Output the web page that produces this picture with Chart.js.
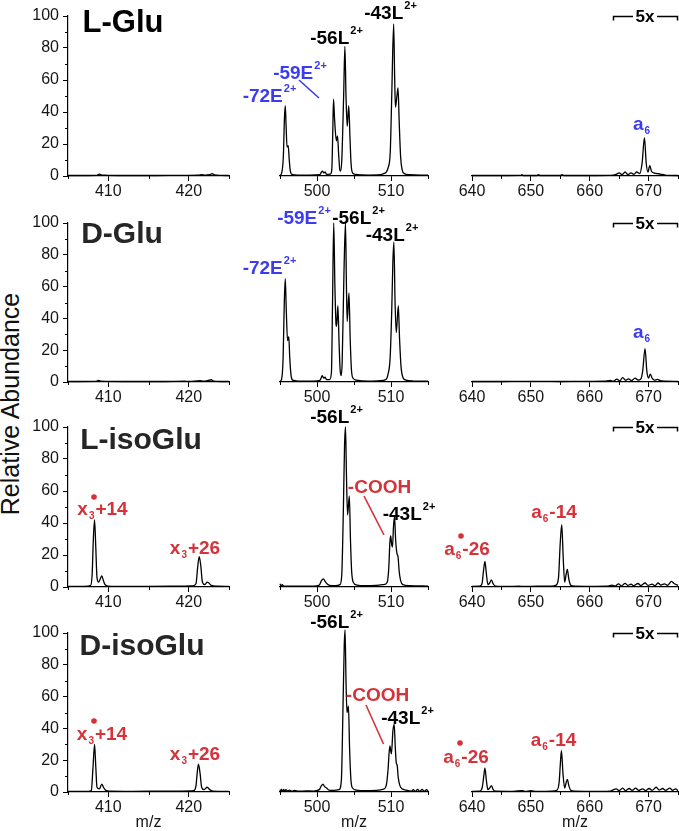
<!DOCTYPE html>
<html lang="en">
<head>
<meta charset="UTF-8" />
<title>Glu / isoGlu fragment spectra</title>
<script src="https://cdn.jsdelivr.net/npm/chart.js"></script>
<style>
  body { margin:0; background:#fff; width:679px; height:831px; position:relative; overflow:hidden;
         font-family:"Liberation Sans", Arial, sans-serif; }
  canvas { position:absolute; }
  svg { position:absolute; left:0; top:0; }
  .lbl { position:absolute; font-weight:bold; font-size:19px; line-height:1; white-space:nowrap;
         transform:translate(-50%,-50%); color:#000; }
  .ttl { font-size:30px; color:#262626; }
  .blue { color:#3b3bf2; }
  .red { color:#d6323a; }
  .sp { font-size:11px; position:relative; top:-10px; margin-left:1px; }
  .sb { font-size:10px; position:relative; top:4px; margin:0 1px; }
  .five { font-size:17px; }
  #yTitle { position:absolute; left:10px; top:404px; font-size:25px; white-space:nowrap; color:#111;
            transform:translate(-50%,-50%) rotate(-90deg); }
</style>
</head>
<body>
<div id="yTitle">Relative Abundance</div>
<svg id="marks" width="679" height="831"></svg>

<script>
  // ---- data: [m/z, relative abundance] ----
  const lGlu410 = [[405,0.3],[407,0.3],[408.6,0.4],[408.9,1.2],[409.2,0.6],[409.6,0.5],[412,0.3],[416,0.3],[419,0.4],
    [421.2,0.5],[421.6,0.9],[422,0.6],[422.6,0.8],[422.9,1.5],[423.2,0.7],[424,0.4],[425,0.3]];
  const lGlu500 = [[495,0.5],[495.2,1.5],[495.45,12],[495.6,36],[495.71,44],[495.82,32],[495.95,18],[496.11,19],
    [496.25,10],[496.4,3],[496.6,1],[497.5,0.6],[499,0.5],[500.4,0.8],[500.6,2.5],[500.75,3],[500.9,2],[501.1,2.5],
    [501.3,1],[501.8,1.2],[502,4],[502.12,25],[502.23,48],[502.38,35],[502.62,22],[502.77,25],[502.92,14],[503.08,4],
    [503.18,3],[503.35,10],[503.6,50],[503.77,81],[503.92,50],[504.08,31],[504.29,44],[504.45,25],[504.6,8],
    [504.8,2],[505.2,1],[507,0.6],[508.5,0.8],[509,1.5],[509.29,2],[509.6,5],[509.9,15],[510.1,50],[510.36,95],
    [510.5,60],[510.6,43],[510.8,50],[510.95,55],[511.1,35],[511.3,12],[511.5,4],[511.8,1.5],[512.5,0.8],[514,0.5],[515,0.5]];
  const lGlu640 = [[640,0.3],[645,0.3],[648.3,0.4],[648.5,0.8],[648.7,0.3],[651,0.3],[651.3,0.8],[651.6,0.3],[655,0.3],
    [655.3,0.9],[655.6,0.3],[660,0.3],[663.5,0.4],[664.5,1],[665,2],[665.5,0.8],[666,2.5],[666.5,0.9],[667,2],[667.5,1],
    [668,2.5],[668.5,1.5],[668.9,8],[669.3,24],[669.6,8],[669.9,2.5],[670.2,6.5],[670.5,3],[671,1.8],[671.5,1.5],
    [672,1.2],[672.5,0.8],[673,0.4],[675,0.3]];

  const dGlu410 = [[405,0.3],[408.5,0.4],[408.8,1],[409.1,0.5],[412,0.3],[417,0.3],[419.5,0.5],[420,0.3],[421.4,0.8],
    [421.8,0.5],[422.2,0.7],[422.8,1.4],[423.1,0.6],[424,0.3],[425,0.3]];
  const dGlu500 = [[495,0.5],[495.2,1.5],[495.42,15],[495.58,50],[495.71,65],[495.85,45],[496.02,26],[496.19,28.5],
    [496.32,15],[496.5,4],[496.7,1.2],[497.5,0.6],[499.5,0.5],[500.4,1],[500.6,3],[500.71,4],[500.9,2.5],[501.1,3],
    [501.3,1.5],[501.7,1.5],[501.95,6],[502.1,50],[502.26,100],[502.42,60],[502.58,36],[502.65,35],[502.82,48],
    [502.98,25],[503.12,8],[503.25,4],[503.4,12],[503.65,70],[503.85,100],[503.98,60],[504.08,38],[504.32,56],
    [504.48,28],[504.65,8],[504.85,2.5],[505.3,1.2],[507,0.6],[508.5,0.8],[509.3,1.5],[509.6,5],[509.88,15],
    [510.1,45],[510.25,75],[510.39,88],[510.55,50],[510.71,31],[510.99,48],[511.15,28],[511.35,10],[511.6,3],
    [512,1.2],[513,0.6],[515,0.5]];
  const dGlu640 = [[640,0.3],[645,0.3],[648.5,0.4],[652,0.4],[655,0.3],[659,0.4],[662.5,0.5],[663.5,1],[664,0.5],
    [664.6,1.8],[665.1,0.7],[665.6,2.8],[666.1,1],[666.6,2],[667.1,0.8],[667.7,2.5],[668.2,1.2],[668.7,2],[669,7],
    [669.4,21],[669.7,7],[670,2.5],[670.3,5],[670.6,2.5],[671,1.2],[671.5,1.6],[672,0.8],[673,0.5],[675,0.3]];

  const lIso410 = [[405,0.4],[407,0.4],[407.8,0.8],[408,8],[408.15,30],[408.3,42],[408.45,25],[408.6,6],[408.8,3],
    [409,5],[409.2,7],[409.4,4],[409.6,1.5],[410,0.6],[412,0.4],[415,0.4],[418,0.5],[419.5,0.6],[420.5,0.7],
    [420.9,2],[421.1,12],[421.3,19],[421.5,13],[421.7,3],[422,1.5],[422.3,3],[422.5,2.5],[422.8,1],[423.5,0.5],[425,0.4]];
  const lIso500 = [[495,2],[495.15,0.5],[495.3,1.5],[495.5,0.6],[497,0.5],[499.5,0.6],[500.3,1.2],[500.6,4],
    [500.87,5],[501.1,3.5],[501.35,2],[501.7,1],[502.5,0.8],[503.1,1.5],[503.35,8],[503.55,45],[503.72,88],
    [503.85,100],[503.98,70],[504.13,45],[504.37,57],[504.52,30],[504.68,10],[504.9,3],[505.4,1.2],[506.5,0.8],
    [508,1],[509,1.5],[509.49,3],[509.7,12],[509.85,28],[509.96,32],[510.08,27],[510.2,25],[510.34,38],[510.48,44],
    [510.62,30],[510.8,21],[510.95,19],[511.1,10],[511.3,4],[511.6,1.5],[512.5,0.8],[515,0.6]];
  const lIso640 = [[640,0.4],[641.3,0.5],[641.7,2],[641.95,10],[642.2,16],[642.45,8],[642.7,1.5],[643,2.5],
    [643.3,4.5],[643.6,2],[644,0.6],[646,0.4],[648,0.5],[649,0.4],[651,0.5],[653.5,0.5],[654.3,1.2],[654.7,6],
    [655,28],[655.25,39],[655.5,18],[655.75,3],[656,8],[656.2,11],[656.45,5],[656.8,1],[657.5,0.5],[660,0.4],
    [663,0.5],[663.8,1.2],[664.3,0.6],[664.9,2],[665.4,0.7],[666,2.3],[666.5,1],[667,1.8],[667.5,0.8],[668.2,2.2],
    [668.7,0.9],[669.4,2.5],[669.9,1],[670.6,1.8],[671.1,0.8],[671.6,2.5],[672.1,1.2],[672.7,2],[673.2,1],
    [673.9,3.5],[674.4,2],[675,1]];

  const dIso410 = [[405,0.4],[407.5,0.4],[407.9,1],[408.1,15],[408.3,30],[408.45,16],[408.6,3],[408.9,2],[409.2,5],
    [409.4,3],[409.7,1],[410.2,0.5],[413,0.4],[416,0.5],[419,0.6],[420.6,0.8],[420.9,4],[421.05,12],[421.2,17.5],
    [421.4,12],[421.6,3],[421.9,1.5],[422.3,3],[422.6,1.5],[423,0.6],[425,0.4]];
  const dIso500 = [[495,1.5],[495.1,0.3],[495.2,1.8],[495.35,0.4],[495.5,1.6],[495.65,0.5],[495.8,1.4],[496,0.6],
    [496.3,1.2],[496.6,0.5],[497,1],[497.5,0.5],[498.5,0.7],[499.5,0.6],[500.3,1.5],[500.6,4],[500.8,5],[501,3.5],
    [501.3,2.5],[501.6,1.2],[502.3,1],[503,1.5],[503.3,8],[503.5,50],[503.68,92],[503.79,102],[503.92,70],
    [504.05,50],[504.25,54],[504.4,28],[504.58,8],[504.8,2.5],[505.3,1.2],[506.5,0.8],[508,1],[509,1.8],[509.35,4],
    [509.6,14],[509.75,25],[509.86,29],[509.96,26],[510.06,24],[510.25,38],[510.43,42.5],[510.58,28],[510.72,18],
    [510.83,17],[510.98,9],[511.2,4],[511.5,2],[512,1.2],[512.8,0.5],[513,1.5],[513.3,0.4],[513.6,1.6],[513.9,0.3],
    [514.2,1.7],[514.5,0.4],[514.8,1.5],[515,0.6]];
  const dIso640 = [[640,0.4],[641.3,0.5],[641.75,3],[642,10],[642.2,15],[642.45,7],[642.7,1.5],[643,2.5],[643.3,4],
    [643.6,1.5],[644,0.5],[647,0.4],[648.5,0.9],[649,0.4],[650,0.8],[651,0.4],[653.5,0.5],[654.4,1],[654.8,6],
    [655.05,20],[655.2,26],[655.45,12],[655.75,2.5],[656,6],[656.2,8],[656.45,4],[656.8,1],[657.5,0.5],[660,0.4],
    [663.5,0.6],[664.5,2],[665,0.8],[665.6,2.5],[666.1,0.9],[666.7,2.2],[667.2,1],[667.8,2.5],[668.3,1],[669,2],
    [669.5,0.9],[670.1,2.2],[670.6,1],[671.3,3],[671.8,1.2],[672.4,2.2],[672.9,1],[673.6,2.5],[674.1,1],[674.6,2],[675,0.8]];

  // ---- axes: ranges and tick labels ----
  const xRanges = [[405, 425], [495, 515], [640, 675]];
  const xMajor = [[410, 420], [500, 510], [640, 650, 660, 670]];
  const xMinor = [[405, 415, 425], [495, 505, 515], [645, 655, 665, 675]];
  const yMajor = [0, 20, 40, 60, 80, 100];
  const yMinor = [10, 30, 50, 70, 90];
  const sampleNames = ["L-Glu", "D-Glu", "L-isoGlu", "D-isoGlu"];
  const spectra = [
    [lGlu410, lGlu500, lGlu640],
    [dGlu410, dGlu500, dGlu640],
    [lIso410, lIso500, lIso640],
    [dIso410, dIso500, dIso640]
  ];

  // panel placement (pixels)
  const COLS = [{ left: 68, width: 161 }, { left: 260, width: 168 }, { left: 452, width: 226 }];
  const ROWS = [{ top: 16, bottom: 176 }, { top: 223, bottom: 382 }, { top: 427, bottom: 587 }, { top: 633, bottom: 792 }];
  const FONT = "'Liberation Sans', Arial, sans-serif";

  const minorTicks = {
    id: "minorTicks",
    afterDraw(chart, args, opts) {
      const ctx = chart.ctx, a = chart.chartArea;
      ctx.save();
      ctx.strokeStyle = "#000";
      ctx.lineWidth = 1;
      (opts.x || []).forEach(v => {
        const px = Math.round(chart.scales.x.getPixelForValue(v)) + 0.5;
        ctx.beginPath(); ctx.moveTo(px, a.bottom); ctx.lineTo(px, a.bottom + 3); ctx.stroke();
      });
      (opts.y || []).forEach(v => {
        const py = Math.round(chart.scales.y.getPixelForValue(v)) + 0.5;
        ctx.beginPath(); ctx.moveTo(a.left, py); ctx.lineTo(a.left - 3, py); ctx.stroke();
      });
      ctx.restore();
    }
  };

  function panel(r, c) {
    const col = COLS[c], row = ROWS[r];
    const padL = c === 0 ? 46 : 20, padT = 26, padR = 8, padB = r === 3 ? 39 : 26;
    const cv = document.createElement("canvas");
    cv.width = col.width + padL + padR;
    cv.height = row.bottom - row.top + padT + padB;
    cv.style.left = (col.left - padL) + "px";
    cv.style.top = (row.top - padT) + "px";
    document.body.appendChild(cv);

    const tickFont = { family: FONT, size: 16 };
    new Chart(cv, {
      type: "line",
      data: {
        datasets: [{
          data: spectra[r][c].map(p => ({ x: p[0], y: p[1] })),
          borderColor: "#000",
          borderWidth: 1.3,
          pointRadius: 0,
          cubicInterpolationMode: "monotone",
          fill: false,
          clip: false
        }]
      },
      options: {
        responsive: false,
        animation: false,
        devicePixelRatio: 1,
        layout: { padding: { top: padT, right: padR, bottom: 0, left: c === 0 ? 0 : padL } },
        plugins: {
          legend: { display: false },
          tooltip: { enabled: false },
          minorTicks: { x: xMinor[c], y: c === 0 ? yMinor : [] }
        },
        scales: {
          x: {
            type: "linear",
            min: xRanges[c][0],
            max: xRanges[c][1],
            afterBuildTicks: s => { s.ticks = xMajor[c].map(v => ({ value: v })); },
            afterFit: s => { s.height = padB; s.paddingLeft = 0; s.paddingRight = 0; },
            grid: { drawOnChartArea: false, drawTicks: true, tickLength: 5, tickColor: "#000", tickWidth: 1 },
            border: { display: true, color: "#000", width: 1.2 },
            ticks: { font: tickFont, color: "#151515", padding: 1, maxRotation: 0, autoSkip: false },
            title: {
              display: r === 3, text: "m/z", color: "#151515",
              font: { family: FONT, size: 16, lineHeight: 1 }, padding: { top: 0, bottom: 0 }
            }
          },
          y: {
            display: c === 0,
            min: 0,
            max: 100,
            afterBuildTicks: s => { s.ticks = yMajor.map(v => ({ value: v })); },
            afterFit: s => { s.width = padL; s.paddingTop = 0; s.paddingBottom = 0; },
            grid: { drawOnChartArea: false, drawTicks: true, tickLength: 5, tickColor: "#000", tickWidth: 1 },
            border: { display: true, color: "#000", width: 1.2 },
            ticks: { font: tickFont, color: "#151515", padding: 4 }
          }
        }
      },
      plugins: [minorTicks]
    });
  }

  for (let r = 0; r < 4; r++) for (let c = 0; c < 3; c++) panel(r, c);

  // ---- annotations ----
  const sup = t => '<span class="sp">' + t + '</span>';
  const sub = t => '<span class="sb">' + t + '</span>';
  const notes = [
    // row 1
    ["-72E" + sup("2+"), 269.5, 94.5, "blue"],
    ["-59E" + sup("2+"), 300, 71.5, "blue"],
    ["-56L" + sup("2+"), 336.5, 36.5, ""],
    ["-43L" + sup("2+"), 390.5, 11.5, ""],
    ["a" + sub("6"), 642, 122.5, "blue"],
    // row 2
    ["-72E" + sup("2+"), 269.5, 266.5, "blue"],
    ["-59E" + sup("2+"), 304, 216.5, "blue"],
    ["-56L" + sup("2+"), 358.5, 216.5, ""],
    ["-43L" + sup("2+"), 392, 234, ""],
    ["a" + sub("6"), 642, 331, "blue"],
    // row 3
    ["x" + sub("3") + "+14", 102.5, 507.5, "red"],
    ["x" + sub("3") + "+26", 195, 547, "red"],
    ["-56L" + sup("2+"), 336.5, 415.5, ""],
    ["-COOH", 379.5, 485.5, "red"],
    ["-43L" + sup("2+"), 409, 512.5, ""],
    ["a" + sub("6") + "-26", 467, 547.5, "red"],
    ["a" + sub("6") + "-14", 554, 511, "red"],
    // row 4
    ["x" + sub("3") + "+14", 102, 733, "red"],
    ["x" + sub("3") + "+26", 195, 752.5, "red"],
    ["-56L" + sup("2+"), 336.5, 621, ""],
    ["-COOH", 377.5, 694, "red"],
    ["-43L" + sup("2+"), 407.5, 717, ""],
    ["a" + sub("6") + "-26", 466, 756, "red"],
    ["a" + sub("6") + "-14", 553.5, 739, "red"]
  ];
  const titlePos = [[123, 20.5, 31], [122, 233, 30], [141, 438.5, 30], [142, 645, 30]];

  function addLabel(html, x, y, cls) {
    const d = document.createElement("div");
    d.className = "lbl " + cls;
    d.innerHTML = html;
    d.style.left = x + "px";
    d.style.top = y + "px";
    document.body.appendChild(d);
    return d;
  }
  notes.forEach(n => addLabel(n[0], n[1], n[2], n[3]));
  sampleNames.forEach((name, i) => {
    const d = addLabel(name, titlePos[i][0], titlePos[i][1], "ttl");
    d.style.fontSize = titlePos[i][2] + "px";
    if (i === 0) d.style.color = "#000";
  });

  // connector lines, radical dots and the 5x brackets
  const svg = document.getElementById("marks");
  let s = "";
  s += '<line x1="299" y1="80" x2="319" y2="98" stroke="#3b3bf2" stroke-width="1.6"/>';
  s += '<line x1="364" y1="496" x2="384" y2="535" stroke="#d6323a" stroke-width="1.6"/>';
  s += '<line x1="366" y1="705" x2="383.5" y2="744" stroke="#d6323a" stroke-width="1.6"/>';
  [[94, 497], [94, 721], [461, 536], [460, 743]].forEach(p => {
    s += '<circle cx="' + p[0] + '" cy="' + p[1] + '" r="2.8" fill="#d6323a"/>';
  });
  ROWS.forEach(row => {
    const y = row.top + 0.5;
    s += '<path d="M613.5,' + (y + 4) + ' V' + y + ' H633 M657,' + y + ' H677.5 V' + (y + 4) +
         '" fill="none" stroke="#000" stroke-width="1.5"/>';
    addLabel("5x", 645, row.top, "five");
  });
  svg.innerHTML = s;
</script>
</body>
</html>
